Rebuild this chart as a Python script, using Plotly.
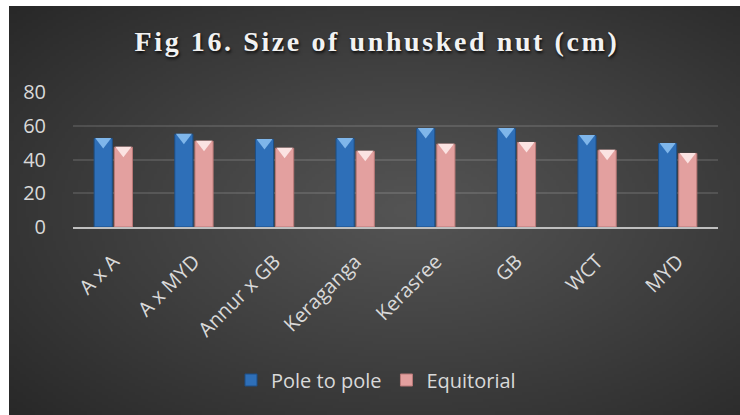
import base64
import struct
import zlib

import numpy as np
import plotly.graph_objects as go

# ---- data ----
varieties = ["A x A", "A x MYD", "Annur x GB", "Keraganga", "Kerasree", "GB", "WCT", "MYD"]
pole_to_pole = [52.5, 55.0, 51.9, 52.5, 58.4, 58.4, 54.2, 49.5]
equitorial = [47.3, 50.9, 46.7, 44.9, 49.1, 50.1, 45.5, 43.6]
series_names = ["Pole to pole", "Equitorial"]
y_ticks = [0, 20, 40, 60, 80]
title_text = "Fig 16. Size of unhusked nut (cm)"

# ---- geometry (pixels) ----
W, H = 740, 415
PLOT_L, PLOT_R, PLOT_T, PLOT_B = 73, 718, 92, 227
CARD_L, CARD_T = 9, 6
plot_w = PLOT_R - PLOT_L
plot_h = PLOT_B - PLOT_T


def radial_png(w, h, inner, outer, cx=0.55, cy=0.5):
    """Small PNG with a radial gradient, returned as a data URI."""
    yy, xx = np.mgrid[0:h, 0:w]
    dx = (xx / (w - 1) - cx) / 0.75
    dy = (yy / (h - 1) - cy) / 0.75
    t = np.clip(np.sqrt(dx ** 2 + dy ** 2), 0, 1) ** 1.1
    inner = np.array(inner, float)
    outer = np.array(outer, float)
    img = (inner[None, None, :] * (1 - t[..., None]) + outer[None, None, :] * t[..., None]).astype(np.uint8)
    raw = b"".join(b"\x00" + img[r].tobytes() for r in range(h))

    def chunk(tag, data):
        c = struct.pack(">I", len(data)) + tag + data
        return c + struct.pack(">I", zlib.crc32(tag + data) & 0xFFFFFFFF)

    png = b"\x89PNG\r\n\x1a\n"
    png += chunk(b"IHDR", struct.pack(">IIBBBBB", w, h, 8, 2, 0, 0, 0))
    png += chunk(b"IDAT", zlib.compress(raw, 9))
    png += chunk(b"IEND", b"")
    return "data:image/png;base64," + base64.b64encode(png).decode()


bg_uri = radial_png(240, 135, (84, 84, 84), (40, 40, 40))

BLUE = "#2e6fb8"
BLUE_EDGE = "#1d4f86"
BLUE_TOP = "#7fb6ea"
PINK = "#e3a09f"
PINK_EDGE = "#b97978"
PINK_TOP = "#fbe3e2"
TEXT = "#d9d9d9"
SANS = "Open Sans, Noto Sans, sans-serif"

fig = go.Figure()

fig.add_trace(go.Bar(
    name=series_names[0], x=varieties, y=pole_to_pole,
    marker=dict(color=BLUE, line=dict(color=BLUE_EDGE, width=1)),
    offsetgroup="a",
))
fig.add_trace(go.Bar(
    name=series_names[1], x=varieties, y=equitorial,
    marker=dict(color=PINK, line=dict(color=PINK_EDGE, width=1)),
    offsetgroup="b",
))

# bevelled caps on the bar tops
cap_drop = 1.8  # data units, pulls the cap just under the bar top
for vals, col, grp in ((pole_to_pole, BLUE_TOP, "a"), (equitorial, PINK_TOP, "b")):
    fig.add_trace(go.Scatter(
        x=varieties, y=[v - cap_drop for v in vals], mode="markers",
        marker=dict(symbol="triangle-down", size=14, color=col, line=dict(width=0)),
        offsetgroup=grp, showlegend=False, hoverinfo="skip",
    ))

fig.update_layout(
    width=W, height=H,
    margin=dict(l=PLOT_L, r=W - PLOT_R, t=PLOT_T, b=H - PLOT_B, pad=0),
    paper_bgcolor="white",
    plot_bgcolor="rgba(0,0,0,0)",
    barmode="group", bargap=0.5, bargroupgap=0.1,
    scattermode="group", scattergap=0.5,
    title=dict(
        text='<span style="letter-spacing:2.6px">' + title_text + "</span>",
        x=377 / W, xanchor="center", xref="container",
        y=1 - 41 / H, yanchor="middle", yref="container",
        font=dict(family="Liberation Serif, Times New Roman, serif", size=28,
                  color="#f2f2f2", weight="bold", shadow="1px 2px 3px rgba(0,0,0,0.8)"),
    ),
    font=dict(family=SANS, color=TEXT, size=20),
    showlegend=True,
    legend=dict(
        orientation="h", x=(376 - PLOT_L) / plot_w, xanchor="center",
        y=1 - (380 - PLOT_T) / plot_h, yanchor="middle",
        font=dict(family=SANS, size=20, color=TEXT),
        bgcolor="rgba(0,0,0,0)", itemwidth=30,
    ),
    images=[dict(
        source=bg_uri, xref="paper", yref="paper", layer="below",
        x=(CARD_L - PLOT_L) / plot_w, y=1 + (PLOT_T - CARD_T) / plot_h,
        sizex=(W - CARD_L) / plot_w, sizey=(H - CARD_T) / plot_h,
        xanchor="left", yanchor="top", sizing="stretch",
    )],
)

fig.update_xaxes(
    type="category", tickangle=-45, showgrid=False,
    showline=True, linecolor="#bfbfbf", linewidth=2,
    ticks="outside", ticklen=13, tickcolor="rgba(0,0,0,0)",
    tickfont=dict(family=SANS, size=20, color=TEXT),
    zeroline=False,
)
fig.update_yaxes(
    range=[0, 80], tickvals=y_ticks, showgrid=True,
    gridcolor="rgba(255,255,255,0.12)", gridwidth=1.5,
    zeroline=False, showline=False,
    ticks="outside", ticklen=22, tickcolor="rgba(0,0,0,0)",
    tickfont=dict(family=SANS, size=20, color=TEXT),
)

fig.write_html("out.html")
